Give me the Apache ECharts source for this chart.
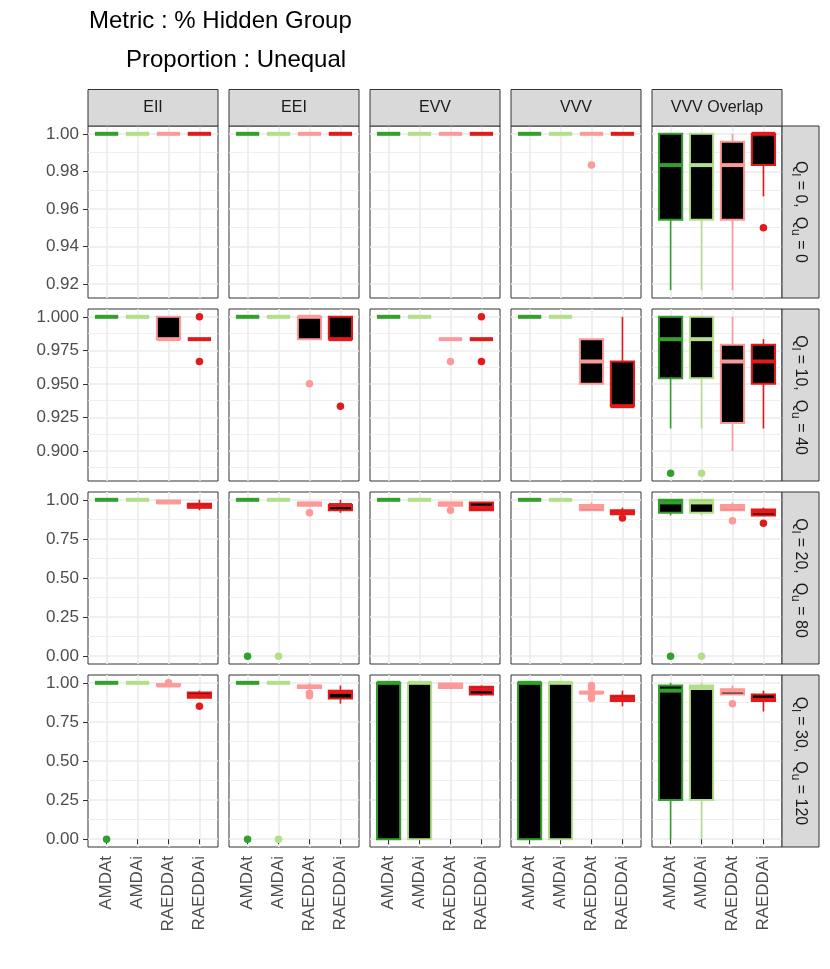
<!DOCTYPE html>
<html><head><meta charset="utf-8">
<script src="https://cdn.jsdelivr.net/npm/echarts@6/dist/echarts.min.js"></script>
<style>html,body{margin:0;padding:0;background:#fff}#c{width:830px;height:969px}</style>
</head><body><div id="c"></div>
<script>
const FONT = "'Liberation Sans', Arial, Helvetica, sans-serif";
const methods = ['AMDAt', 'AMDAi', 'RAEDDAt', 'RAEDDAi'];
const models = ['EII', 'EEI', 'EVV', 'VVV', 'VVV Overlap'];
const methodColors = ['#33a02c', '#b2df8a', '#fb9a99', '#e31a1c'];
const rowQl = ['0', '10', '20', '30'];
const rowQu = ['0', '40', '80', '120'];

// five-number summaries [low, q1, median, q3, high]; per model (5) x method (4)
const statsQ0 = [
  [[1,1,1,1,1],[1,1,1,1,1],[1,1,1,1,1],[1,1,1,1,1]],
  [[1,1,1,1,1],[1,1,1,1,1],[1,1,1,1,1],[1,1,1,1,1]],
  [[1,1,1,1,1],[1,1,1,1,1],[1,1,1,1,1],[1,1,1,1,1]],
  [[1,1,1,1,1],[1,1,1,1,1],[1,1,1,1,1],[1,1,1,1,1]],
  [[0.91667,0.95417,0.98333,1,1],[0.91667,0.95417,0.98333,1,1],[0.91667,0.95417,0.98333,0.99583,1],[0.96667,0.98333,1,1,1]]
];
const statsQ10 = [
  [[1,1,1,1,1],[1,1,1,1,1],[0.98333,0.98333,0.98333,1,1],[0.98333,0.98333,0.98333,0.98333,0.98333]],
  [[1,1,1,1,1],[1,1,1,1,1],[0.98333,0.98333,1,1,1],[0.98333,0.98333,0.98333,1,1]],
  [[1,1,1,1,1],[1,1,1,1,1],[0.98333,0.98333,0.98333,0.98333,0.98333],[0.98333,0.98333,0.98333,0.98333,0.98333]],
  [[1,1,1,1,1],[1,1,1,1,1],[0.95,0.95,0.96667,0.98333,0.98333],[0.93333,0.93333,0.93333,0.96667,1]],
  [[0.91667,0.95417,0.98333,1,1],[0.91667,0.95417,0.98333,1,1],[0.9,0.92083,0.96667,0.97917,1],[0.91667,0.95,0.96667,0.97917,0.98333]]
];
const statsQ20 = [
  [[1,1,1,1,1],[1,1,1,1,1],[0.975,0.97917,0.98333,0.99583,1],[0.93333,0.95,0.95833,0.975,1]],
  [[1,1,1,1,1],[1,1,1,1,1],[0.9625,0.9625,0.975,0.98333,0.98333],[0.91667,0.93333,0.96667,0.96667,1]],
  [[1,1,1,1,1],[1,1,1,1,1],[0.9625,0.9625,0.975,0.98333,0.98333],[0.93333,0.93333,0.95,0.98333,0.98333]],
  [[1,1,1,1,1],[1,1,1,1,1],[0.93333,0.93333,0.95,0.96667,0.98333],[0.90833,0.90833,0.91667,0.93333,0.95]],
  [[0.9,0.91667,0.98333,1,1],[0.9,0.91667,0.98333,1,1],[0.93333,0.93333,0.95,0.96667,0.98333],[0.9,0.9,0.925,0.9375,0.95]]
];
const statsQ30 = [
  [[1,1,1,1,1],[1,1,1,1,1],[0.98333,0.98333,0.98333,0.99167,0.99167],[0.9,0.90417,0.91667,0.9375,0.95]],
  [[1,1,1,1,1],[1,1,1,1,1],[0.95,0.96667,0.975,0.98333,1],[0.86667,0.9,0.94167,0.95,0.98333]],
  [[0,0,1,1,1],[0,0,1,1,1],[0.95833,0.96667,0.98333,0.99583,1],[0.91667,0.925,0.95833,0.975,0.98333]],
  [[0,0,1,1,1],[0,0,1,1,1],[0.93333,0.93333,0.9375,0.94167,0.94167],[0.85,0.88333,0.9,0.91667,0.95]],
  [[0,0.25,0.95,0.98333,1],[0,0.25,0.96667,0.98333,1],[0.925,0.925,0.95,0.95833,0.98333],[0.81667,0.88333,0.89167,0.925,0.95]]
];

// outliers [modelIndex, methodIndex, value]
const outQ0 = [[3,2,0.98333],[4,3,0.95]];
const outQ10 = [[0,3,1],[0,3,0.96667],[1,2,0.95],[1,3,0.93333],[2,2,0.96667],[2,3,1],[2,3,0.96667],[4,0,0.88333],[4,1,0.88333]];
const outQ20 = [[1,0,0],[1,1,0],[1,2,0.91667],[2,2,0.93333],[3,3,0.88333],[4,0,0],[4,1,0],[4,2,0.86667],[4,3,0.85]];
const outQ30 = [[0,0,0],[0,2,1],[0,3,0.85],[1,0,0],[1,1,0],[1,2,0.93333],[1,2,0.91667],[3,2,0.98333],[3,2,0.96667],[3,2,0.91667],[3,2,0.9],[4,2,0.86667]];

// y scales per row
const yRangeQ0 = [0.9125, 1.0041667];
const yRangeQ10 = [0.8775, 1.0058333];
const yRangeQ20 = [-0.05, 1.05];
const yRangeQ30 = [-0.05, 1.05];
const ticksQ0 = [0.92, 0.94, 0.96, 0.98, 1.00];
const ticksQ10 = [0.900, 0.925, 0.950, 0.975, 1.000];
const ticksQ20 = [0, 0.25, 0.5, 0.75, 1];
const ticksQ30 = [0, 0.25, 0.5, 0.75, 1];
const minorQ0 = [0.93, 0.95, 0.97, 0.99];
const minorQ10 = [0.8875, 0.9125, 0.9375, 0.9625, 0.9875];
const minorQ20 = [0.125, 0.375, 0.625, 0.875];
const minorQ30 = [0.125, 0.375, 0.625, 0.875];
const tickDecimals = [2, 3, 2, 2];

const statsByRow = [statsQ0, statsQ10, statsQ20, statsQ30];
const outByRow = [outQ0, outQ10, outQ20, outQ30];
const yRanges = [yRangeQ0, yRangeQ10, yRangeQ20, yRangeQ30];
const ticksByRow = [ticksQ0, ticksQ10, ticksQ20, ticksQ30];
const minorByRow = [minorQ0, minorQ10, minorQ20, minorQ30];

// layout
const colLeft = [88, 229, 370, 511, 652];
const rowTop = [126, 309, 492, 675];
const PW = 130, PH = 172;
const catPos = methods.map((_, i) => i + 1);

function renderBox(params, api) {
  const x = api.value(0);
  const low = api.value(1), q1 = api.value(2), med = api.value(3), q3 = api.value(4), high = api.value(5);
  const color = methodColors[api.value(6)];
  const hw = 0.375;
  const lt = api.coord([x - hw, q3]);
  const rb = api.coord([x + hw, q1]);
  const pm = api.coord([x, med]);
  const ph = api.coord([x, high]);
  const pl = api.coord([x, low]);
  const children = [];
  if (high > q3) children.push({type: 'line', shape: {x1: pm[0], y1: ph[1], x2: pm[0], y2: lt[1]}, style: {stroke: color, lineWidth: 1.6}});
  if (low < q1) children.push({type: 'line', shape: {x1: pm[0], y1: rb[1], x2: pm[0], y2: pl[1]}, style: {stroke: color, lineWidth: 1.6}});
  children.push({type: 'rect', shape: {x: lt[0], y: lt[1], width: rb[0] - lt[0], height: Math.max(rb[1] - lt[1], 0)}, style: {fill: '#000000', stroke: color, lineWidth: 2}});
  children.push({type: 'line', shape: {x1: lt[0], y1: pm[1], x2: rb[0], y2: pm[1]}, style: {stroke: color, lineWidth: 4}});
  return {type: 'group', children};
}

const grids = [], xAxes = [], yAxes = [], series = [], graphics = [];
for (let r = 0; r < 4; r++) {
  for (let c = 0; c < 5; c++) {
    const g = r * 5 + c;
    const isBottom = r === 3, isLeft = c === 0;
    grids.push({left: colLeft[c], top: rowTop[r], width: PW, height: PH, show: true,
      borderColor: '#333333', borderWidth: 1, backgroundColor: '#ffffff', containLabel: false, outerBoundsMode: 'none'});
    xAxes.push({type: 'value', gridIndex: g, min: 0.4, max: 4.6,
      axisLine: {show: false},
      axisTick: {show: isBottom, customValues: catPos, length: 5, lineStyle: {color: '#333333', width: 1}},
      axisLabel: {show: isBottom, customValues: catPos, rotate: 90, margin: 9, fontSize: 17, color: '#4d4d4d', fontFamily: FONT,
        formatter: v => methods[Math.round(v) - 1]},
      splitLine: {show: true, lineStyle: {color: '#ebebeb', width: 1.6}}
    });
    const dec = tickDecimals[r];
    yAxes.push({type: 'value', gridIndex: g, min: yRanges[r][0], max: yRanges[r][1], position: 'left',
      axisLine: {show: false},
      axisTick: {show: isLeft, customValues: ticksByRow[r], length: 5, lineStyle: {color: '#333333', width: 1}},
      axisLabel: {show: isLeft, customValues: ticksByRow[r], margin: 9, fontSize: 17, color: '#4d4d4d', fontFamily: FONT,
        formatter: v => Number(v).toFixed(dec)},
      splitLine: {show: true, lineStyle: {color: '#ebebeb', width: 1.6}}
    });
    yAxes.push({type: 'value', gridIndex: g, min: yRanges[r][0], max: yRanges[r][1], position: 'right',
      axisLine: {show: false},
      axisTick: {show: false, customValues: minorByRow[r]},
      axisLabel: {show: false, customValues: minorByRow[r]},
      splitLine: {show: true, lineStyle: {color: '#ebebeb', width: 0.8}}
    });
    const stats = statsByRow[r][c];
    series.push({type: 'custom', xAxisIndex: g, yAxisIndex: 2 * g, renderItem: renderBox, z: 3,
      encode: {x: 0, y: [1, 2, 3, 4, 5]},
      data: stats.map((s, m) => [m + 1, s[0], s[1], s[2], s[3], s[4], m])});
    const outs = outByRow[r].filter(o => o[0] === c).map(o => ({value: [o[1] + 1, o[2]], itemStyle: {color: methodColors[o[1]]}}));
    series.push({type: 'scatter', xAxisIndex: g, yAxisIndex: 2 * g, symbolSize: 7.5, z: 2, data: outs,
      itemStyle: {opacity: 1, borderWidth: 0}});
  }
}

// top strips
models.forEach((name, c) => {
  graphics.push({type: 'rect', shape: {x: colLeft[c], y: 89.5, width: PW, height: 36.5},
    style: {fill: '#d9d9d9', stroke: '#333333', lineWidth: 1}, z: 10});
  graphics.push({type: 'text', x: colLeft[c] + PW / 2, y: 108, z: 11,
    style: {text: name, fontSize: 16, fontFamily: FONT, fill: '#1a1a1a', align: 'center', verticalAlign: 'middle', textAlign: 'center', textVerticalAlign: 'middle'}});
});
// right strips
rowQl.forEach((ql, r) => {
  graphics.push({type: 'rect', shape: {x: 782, y: rowTop[r], width: 37, height: PH},
    style: {fill: '#d9d9d9', stroke: '#333333', lineWidth: 1}, z: 10});
  graphics.push({type: 'text', x: 800.5, y: rowTop[r] + PH / 2, rotation: -Math.PI / 2, z: 11,
    style: {text: '{m|Q}{s|l}{m| = ' + ql + ',  Q}{s|u}{m| = ' + rowQu[r] + '}',
      align: 'center', verticalAlign: 'middle', textAlign: 'center', textVerticalAlign: 'middle',
      rich: {
        m: {fontSize: 16, fontFamily: FONT, fill: '#1a1a1a', lineHeight: 22, verticalAlign: 'middle'},
        s: {fontSize: 12, fontFamily: FONT, fill: '#1a1a1a', lineHeight: 12, verticalAlign: 'bottom'}
      }}});
});
// title
graphics.push({type: 'text', x: 89, y: 21.5, z: 11,
  style: {text: 'Metric : % Hidden Group', fontSize: 24, fontFamily: FONT, fill: '#000000', align: 'left', verticalAlign: 'middle', textAlign: 'left', textVerticalAlign: 'middle'}});
graphics.push({type: 'text', x: 126, y: 60, z: 11,
  style: {text: 'Proportion : Unequal', fontSize: 24, fontFamily: FONT, fill: '#000000', align: 'left', verticalAlign: 'middle', textAlign: 'left', textVerticalAlign: 'middle'}});

const chart = echarts.init(document.getElementById('c'), null, {renderer: 'canvas'});
chart.setOption({
  backgroundColor: '#ffffff',
  animation: false,
  textStyle: {fontFamily: FONT},
  grid: grids, xAxis: xAxes, yAxis: yAxes, series: series,
  graphic: {elements: graphics}
});
</script></body></html>
